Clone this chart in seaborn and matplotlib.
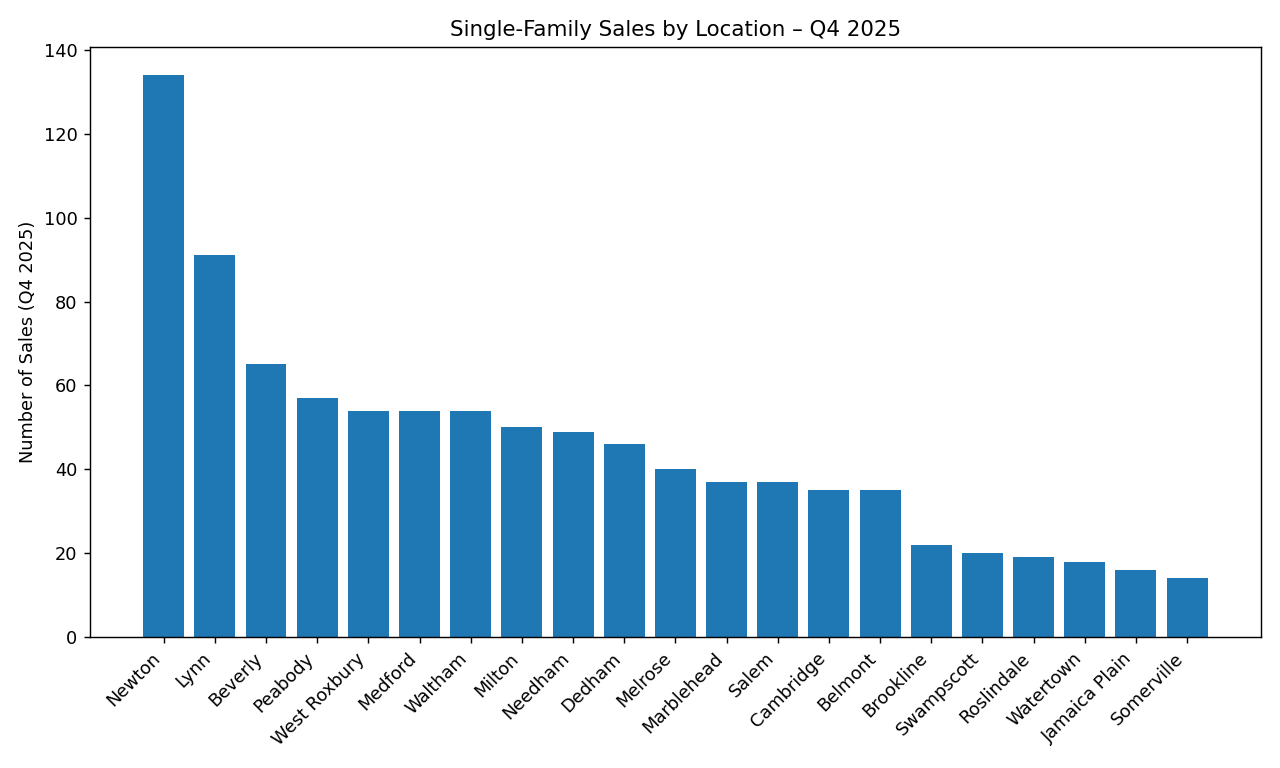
import matplotlib
matplotlib.use("Agg")
import matplotlib.pyplot as plt
import seaborn as sns
import pandas as pd

# ── Datos ───────────────────────────────────────────────────────────
locations = ["Newton", "Lynn", "Beverly", "Peabody", "West Roxbury", "Medford",
             "Waltham", "Milton", "Needham", "Dedham", "Melrose", "Marblehead",
             "Salem", "Cambridge", "Belmont", "Brookline", "Swampscott",
             "Roslindale", "Watertown", "Jamaica Plain", "Somerville"]
sales = [134, 91, 65, 57, 54, 54, 54, 50, 49, 46, 40, 37, 37, 35, 35,
         22, 20, 19, 18, 16, 14]

df = pd.DataFrame({"Location": locations, "Sales": sales})

plt.rcParams["font.family"] = ["DejaVu Sans"]

fig, ax = plt.subplots(figsize=(10, 6), dpi=128)
sns.barplot(data=df, x="Location", y="Sales", color="#1f77b4",
            saturation=1, width=0.8, linewidth=0, ax=ax)

n = len(locations)
pad = (n - 1 + 0.8) * 0.05
ax.set_xlim(-0.4 - pad, n - 1 + 0.4 + pad)
ax.set_ylim(0, max(sales) * 1.05)

ax.set_title("Single-Family Sales by Location \u2013 Q4 2025", fontsize=12)
ax.set_xlabel("")
ax.set_ylabel("Number of Sales (Q4 2025)", fontsize=10)
ax.tick_params(axis="both", labelsize=10, colors="black")
plt.setp(ax.get_xticklabels(), rotation=45, ha="right")

fig.subplots_adjust(left=0.0703, right=0.985, top=0.9388, bottom=0.1706)
fig.savefig("out.png", dpi=128)
